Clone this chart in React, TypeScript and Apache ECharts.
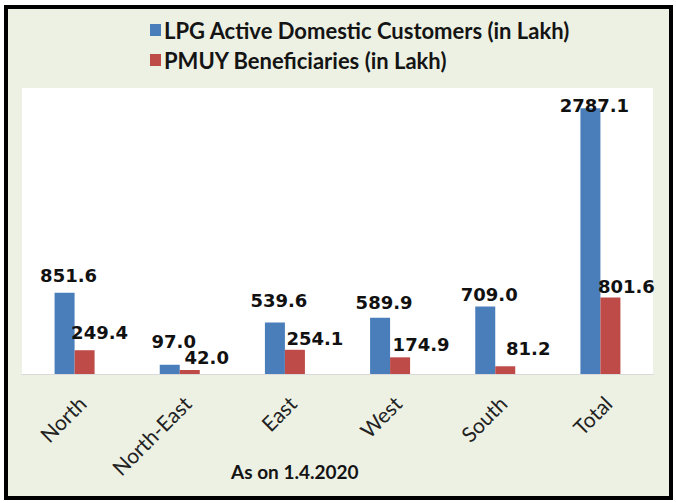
import React, { useEffect, useRef } from "react";
import * as echarts from "echarts";

const categories = ["North", "North-East", "East", "West", "South", "Total"];
const lpgCustomers = [851.6, 97.0, 539.6, 589.9, 709.0, 2787.1];
const pmuyBeneficiaries = [249.4, 42.0, 254.1, 174.9, 81.2, 801.6];
const seriesNames = ["LPG Active Domestic Customers (in Lakh)", "PMUY Beneficiaries (in Lakh)"];
const footnote = "As on 1.4.2020";

// label placement tweaks (pixels above the bar top for the label centre, horizontal shift)
const blueLabelLift = [18, 24, 23, 16, 13, 4];
const redLabelLift = [19, 13, 12, 14, 19, 12];
const redLabelShift = [15, 17, 20, 21, 23, 16];

export default function App() {
  const ref = useRef<HTMLDivElement>(null);
  useEffect(() => {
    const chart = echarts.init(ref.current!, undefined, { renderer: "svg" });
    const labelFont = {
      fontFamily: "DejaVu Sans",
      fontWeight: "bold" as const,
      fontSize: 18,
      color: "#111",
    };
    const fmt = (p: any) => Number(p.value).toFixed(1);
    chart.setOption({
      animation: false,
      backgroundColor: "#ffffff",
      graphic: [
        {
          type: "rect",
          shape: { x: 6, y: 7, width: 665, height: 491 },
          style: { fill: "#edf1e4", stroke: "#000", lineWidth: 4 },
          z: -10,
        },
      ],
      legend: {
        orient: "vertical",
        left: 145,
        top: 14,
        itemWidth: 11,
        itemHeight: 12,
        itemGap: 8,
        icon: "rect",
        textStyle: { fontFamily: "Lato", fontWeight: "bold", fontSize: 22, color: "#141414", padding: [0, 0, 0, -2] },
        data: seriesNames,
      },
      title: {
        text: footnote,
        left: 226,
        top: 457,
        textStyle: { fontFamily: "Lato", fontWeight: "bold", fontSize: 19, color: "#141414" },
      },
      grid: {
        left: 22,
        right: 23,
        top: 88,
        bottom: 129,
        show: true,
        backgroundColor: "#ffffff",
        borderWidth: 0,
      },
      xAxis: {
        type: "category",
        data: categories,
        axisLine: { lineStyle: { color: "#d9d9d9", width: 1 } },
        axisTick: { show: false },
        axisLabel: {
          rotate: 45,
          margin: 18,
          verticalAlign: "top",
          fontFamily: "Lato",
          fontSize: 21,
          color: "#222",
          interval: 0,
        },
      },
      yAxis: {
        type: "value",
        min: 0,
        max: 3000,
        show: false,
        splitLine: { show: false },
      },
      series: [
        {
          name: seriesNames[0],
          type: "bar",
          data: lpgCustomers.map((v, i) => ({
            value: v,
            label: { offset: [4, 10 - blueLabelLift[i]] },
          })),
          barWidth: 20,
          barGap: "0%",
          itemStyle: { color: "#4a7ebb" },
          label: {
            show: true,
            position: "top",
            distance: 0,
            formatter: fmt,
            ...labelFont,
          },
        },
        {
          name: seriesNames[1],
          type: "bar",
          data: pmuyBeneficiaries.map((v, i) => ({
            value: v,
            label: { offset: [redLabelShift[i], 10 - redLabelLift[i]] },
          })),
          barWidth: 20,
          itemStyle: { color: "#be4b48" },
          label: {
            show: true,
            position: "top",
            distance: 0,
            formatter: fmt,
            ...labelFont,
          },
        },
      ],
    });
    return () => chart.dispose();
  }, []);
  return (
    <div style={{ position: "fixed", left: 0, top: 0 }}>
      <div ref={ref} style={{ width: 676, height: 503 }} />
    </div>
  );
}
